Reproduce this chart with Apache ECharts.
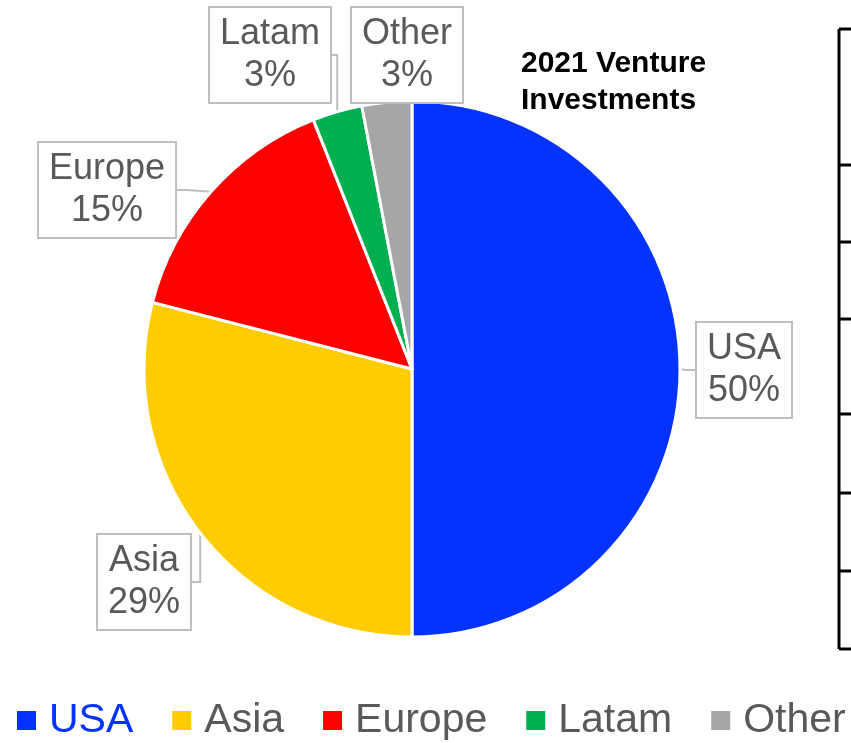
<!DOCTYPE html>
<html>
<head>
<meta charset="utf-8">
<script src="https://cdn.jsdelivr.net/npm/echarts@6/dist/echarts.min.js"></script>
<style>
  html, body { margin: 0; padding: 0; background: #ffffff; }
  #chart { width: 851px; height: 743px; }
</style>
</head>
<body>
<div id="chart"></div>
<script>
// Share of 2021 venture investment by region (percent)
const regions = ['USA', 'Asia', 'Europe', 'Latam', 'Other'];
const shares = [50, 29, 15, 3, 3];
const regionColors = ['#0433ff', '#ffcc00', '#ff0000', '#00b050', '#a6a6a6'];
const legendTextColors = ['#0433ff', '#595959', '#595959', '#595959', '#595959'];
const titleLines = ['2021 Venture', 'Investments'];

// Callout box centres for each slice label (pixels)
const calloutCentres = [[744, 370], [144, 582], [107, 190], [270, 55], [407, 55]];

// Scale marks of the adjoining axis on the right edge
const sideTicks = [29, 165, 242, 319, 414, 493, 571, 649];

const chart = echarts.init(document.getElementById('chart'), null, { renderer: 'canvas' });

const graphics = [{
  type: 'line',
  shape: { x1: 839, y1: sideTicks[0], x2: 839, y2: sideTicks[sideTicks.length - 1] },
  style: { stroke: '#000000', lineWidth: 3 }
}];
sideTicks.forEach(function (y) {
  graphics.push({
    type: 'line',
    shape: { x1: 839, y1: y, x2: 851, y2: y },
    style: { stroke: '#000000', lineWidth: 3 }
  });
});

chart.setOption({
  animation: false,
  backgroundColor: '#ffffff',
  title: {
    text: titleLines.join('\n'),
    left: 516,
    top: 40,
    textStyle: {
      fontFamily: 'Liberation Sans, Arial, sans-serif',
      fontSize: 30,
      fontWeight: 'bold',
      color: '#000000',
      lineHeight: 37
    }
  },
  legend: {
    left: 10,
    top: 695,
    icon: 'rect',
    itemWidth: 21,
    itemHeight: 21,
    itemGap: 37,
    selectedMode: false,
    data: regions.map(function (name, i) {
      return { name: name, textStyle: { color: legendTextColors[i] } };
    }),
    textStyle: {
      fontFamily: 'Liberation Sans, Arial, sans-serif',
      fontSize: 41,
      padding: [0, 0, 0, 7]
    }
  },
  graphic: graphics,
  series: [{
    type: 'pie',
    center: [412, 369],
    radius: 268,
    startAngle: 90,
    clockwise: true,
    avoidLabelOverlap: false,
    data: regions.map(function (name, i) {
      return { name: name, value: shares[i], itemStyle: { color: regionColors[i] } };
    }),
    itemStyle: { borderColor: '#ffffff', borderWidth: 3 },
    label: {
      show: true,
      position: 'outside',
      formatter: '{b}\n{c}%',
      fontFamily: 'Liberation Sans, Arial, sans-serif',
      fontSize: 36,
      lineHeight: 42,
      color: '#595959',
      backgroundColor: '#ffffff',
      borderColor: '#bfbfbf',
      borderWidth: 2,
      padding: [6, 10, 4, 10],
      align: 'center'
    },
    labelLine: {
      show: true,
      length: 10,
      length2: 10,
      lineStyle: { color: '#bfbfbf', width: 2 }
    },
    labelLayout: function (params) {
      const c = calloutCentres[params.dataIndex];
      return { x: c[0], y: c[1], align: 'center', verticalAlign: 'middle' };
    },
    emphasis: { disabled: true }
  }]
});
</script>
</body>
</html>
